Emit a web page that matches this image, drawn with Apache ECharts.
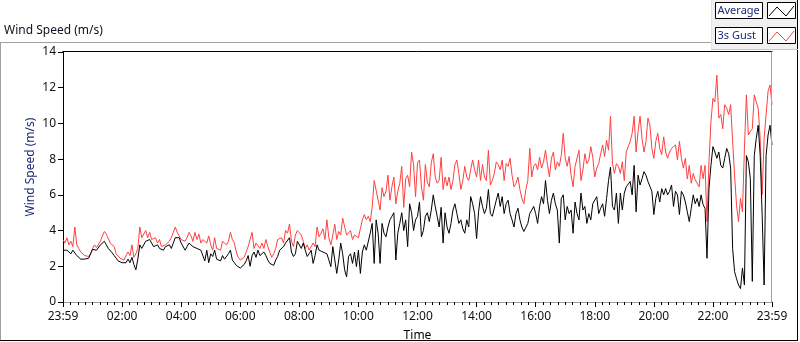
<!DOCTYPE html>
<html>
<head>
<meta charset="utf-8">
<script src="https://cdn.jsdelivr.net/npm/echarts@6/dist/echarts.min.js"></script>
<style>
html,body{margin:0;padding:0;background:#fff;}
#chart{width:800px;height:342px;}
</style>
</head>
<body>
<div id="chart"></div>
<script>
// Sampling step of the series (minutes from 23:59 start)
const sampleMinutes = 4;

// 3s Gust (m/s)
const gust = [
3.5,3.3,3.6,3.2,3.4,3.1,4.2,3.2,3.0,2.8,
2.7,2.6,2.5,2.55,2.7,3.0,3.2,3.05,3.1,3.4,
3.7,3.95,3.8,3.85,3.3,3.4,3.1,2.7,2.6,2.45,
2.4,2.35,2.6,2.8,2.6,3.2,2.5,2.7,3.0,4.2,
3.6,3.7,4.0,3.6,3.9,3.5,3.4,3.6,3.3,3.5,
3.1,3.0,3.2,3.3,3.4,3.6,3.9,4.2,3.9,3.7,
3.5,3.5,3.4,3.6,3.9,3.7,3.4,3.9,3.5,3.8,
3.3,3.5,3.4,3.3,3.7,3.2,2.9,3.6,3.0,3.1,
2.9,3.4,3.3,3.2,3.4,3.9,3.5,3.3,2.8,2.5,
2.35,2.45,2.5,2.6,3.1,3.5,3.9,3.0,3.3,3.4,
3.0,3.3,3.0,3.5,3.1,2.8,2.5,2.7,3.0,3.5,
3.4,3.6,3.3,4.0,3.85,4.37,3.4,3.1,3.75,4.0,
4.0,3.75,3.4,3.0,3.2,2.9,3.0,3.3,3.1,4.2,
3.65,3.85,4.1,3.5,4.6,3.6,3.2,3.75,4.35,3.5,
3.95,3.75,4.7,4.8,3.75,3.65,4.0,3.5,3.75,3.75,
3.6,4.1,4.6,4.9,4.6,4.8,4.5,5.3,6.8,6.7,
5.7,5.15,6.4,5.9,6.2,7.1,5.7,6.45,7.0,5.5,
6.2,6.65,7.6,5.3,6.9,7.1,6.45,8.4,7.7,5.9,
7.8,7.95,6.45,5.7,7.7,6.7,6.45,7.8,8.3,7.0,
6.65,6.8,8.1,6.3,7.0,6.5,7.0,6.3,6.8,7.7,
7.95,7.2,6.3,6.8,7.6,7.0,6.8,7.4,7.95,7.4,
7.0,7.95,6.8,7.7,7.0,6.8,8.5,6.55,6.8,7.2,
7.85,7.7,7.4,7.95,6.8,7.75,7.6,8.05,7.1,6.45,
6.65,7.0,6.3,5.8,5.5,6.3,6.8,8.6,7.0,7.6,
7.75,7.4,8.1,7.5,7.85,8.5,7.7,7.0,8.05,8.4,
7.4,7.85,7.6,8.2,9.45,8.05,7.6,8.15,7.1,6.45,
7.6,7.65,8.5,6.8,7.4,8.3,7.75,7.95,8.7,8.1,
7.0,7.5,7.75,8.3,8.8,8.15,9.05,8.5,10.4,7.75,
7.2,7.75,7.6,7.2,7.85,6.8,8.4,8.4,9.0,9.45,
10.4,8.4,9.55,10.4,9.15,8.4,9.0,10.3,9.9,8.6,
8.05,9.0,9.45,8.6,8.25,9.25,8.4,8.05,8.4,8.6,
8.7,8.8,7.95,9.0,8.05,7.5,8.05,6.9,7.65,6.65,
7.2,6.85,6.9,6.45,7.65,6.9,7.65,4.5,7.85,10.1,
11.4,11.2,12.7,10.3,10.5,9.7,11.05,10.85,10.5,11.05,
9.0,7.1,5.4,4.5,5.8,5.05,8.6,11.6,9.35,9.55,
9.7,11.6,11.2,10.85,9.15,6.0,9.15,10.5,11.8,12.15,
11.05
];

// Average (m/s)
const average = [
2.9,2.8,2.9,2.85,2.7,2.9,2.8,2.6,2.65,2.4,
2.3,2.4,2.3,2.45,2.7,2.95,3.0,2.9,2.85,3.2,
3.3,3.4,3.3,3.0,2.9,2.75,2.6,2.45,2.3,2.2,
2.2,2.15,2.2,2.4,2.2,2.5,2.1,1.8,2.4,3.2,
3.0,3.1,3.4,3.3,3.5,3.3,3.1,3.0,3.2,3.0,
2.9,2.9,3.1,3.0,3.2,3.0,3.3,3.6,3.5,3.6,
3.3,3.2,2.9,3.1,3.3,3.2,3.1,3.2,3.0,3.0,
2.9,2.8,2.3,2.9,2.2,2.7,2.55,2.9,2.4,2.5,
2.3,2.6,2.4,2.5,2.7,2.9,2.35,2.2,2.05,1.95,
1.9,2.0,2.1,2.3,2.6,2.0,2.6,2.8,2.5,2.9,
2.6,2.7,2.8,2.6,2.35,2.16,2.25,2.05,2.35,2.55,
2.9,2.8,3.1,3.3,3.2,3.6,2.8,2.55,2.7,3.4,
3.5,3.0,3.3,2.9,2.55,2.7,2.9,2.16,2.6,3.2,
2.9,3.0,2.8,2.7,2.7,2.35,1.98,3.1,3.2,1.6,
2.35,3.3,2.7,1.8,1.4,2.55,2.7,2.16,2.8,1.98,
2.9,1.6,2.8,3.2,2.9,2.8,3.85,4.4,2.16,4.6,
3.85,2.16,4.4,3.85,3.65,4.2,4.6,4.8,5.0,2.35,
3.85,4.4,5.0,4.0,4.6,3.1,5.5,5.0,4.0,4.6,
4.8,5.6,3.65,4.0,4.8,5.0,4.5,5.15,6.0,5.35,
4.8,4.2,5.3,3.3,5.0,4.2,3.85,4.4,5.15,5.5,
4.95,4.4,4.6,4.1,3.85,4.6,4.2,5.9,5.5,4.95,
3.55,5.05,5.9,5.35,4.95,5.25,6.3,4.95,4.8,4.9,
5.7,6.1,5.35,5.9,4.95,5.5,5.7,4.95,4.6,4.2,
4.95,5.25,4.6,4.2,3.95,3.85,4.4,4.95,5.05,5.35,
4.95,4.4,5.35,5.9,5.5,6.8,5.7,4.95,5.7,6.1,
5.5,5.15,3.3,5.8,6.0,4.6,5.35,4.95,5.15,3.85,
5.6,4.95,4.6,6.1,5.15,5.35,4.4,4.95,4.6,5.5,
5.5,5.9,4.95,5.25,5.5,4.8,5.8,6.8,7.55,5.35,
5.15,6.1,4.4,6.1,5.15,6.1,6.45,6.35,6.75,6.0,
7.65,5.05,7.1,6.55,6.9,7.3,7.1,6.75,6.65,6.2,
4.9,5.8,6.2,5.6,6.35,6.0,6.35,6.0,6.2,6.55,
5.35,6.2,6.0,4.9,6.2,6.0,5.6,5.05,4.5,5.25,
6.0,5.5,5.8,5.35,6.0,5.45,5.25,2.45,6.35,7.65,
8.7,8.4,8.05,8.4,7.65,7.5,8.05,8.6,8.3,7.5,
3.0,1.7,1.3,0.95,0.75,1.9,0.95,8.2,7.85,6.9,
1.15,8.2,9.15,9.9,8.2,4.9,0.95,8.2,9.35,9.9,
8.8
];

// X axis tick labels (every 120 minutes)
const xTickLabels = ["23:59","02:00","04:00","06:00","08:00","10:00","12:00","14:00","16:00","18:00","20:00","22:00","23:59"];
const xTickStep = 120;
const yMax = 14;
const yStep = 2;

const gustData = gust.map((v, i) => [i * sampleMinutes, v]);
const avgData = average.map((v, i) => [i * sampleMinutes, v]);

const FONT = '"Noto Sans", "Open Sans", sans-serif';
const NAVY = '#1b2a74';

const chart = echarts.init(document.getElementById('chart'), null, {renderer: 'canvas'});
chart.setOption({
  animation: false,
  backgroundColor: '#ffffff',
  textStyle: {fontFamily: FONT},
  grid: {left: 63, right: 28, top: 52, bottom: 40, containLabel: false, outerBoundsMode: 'none'},
  xAxis: {
    type: 'value',
    min: 0,
    max: (xTickLabels.length - 1) * xTickStep,
    interval: xTickStep,
    name: 'Time',
    nameLocation: 'middle',
    nameGap: 28,
    nameTextStyle: {color: '#000', fontSize: 12, fontFamily: FONT},
    axisLine: {show: true, lineStyle: {color: '#a0a0a0', width: 1}},
    axisTick: {show: true, length: 5, lineStyle: {color: '#000'}},
    minorTick: {show: true, splitNumber: 8, length: 3, lineStyle: {color: '#000'}},
    splitLine: {show: false},
    axisLabel: {
      color: '#111',
      fontSize: 12,
      fontFamily: FONT,
      margin: 9,
      showMinLabel: true,
      showMaxLabel: true,
      formatter: function (v) { return xTickLabels[Math.round(v / xTickStep)]; }
    }
  },
  yAxis: {
    type: 'value',
    min: 0,
    max: yMax,
    interval: yStep,
    axisLine: {show: true, lineStyle: {color: '#000', width: 1}},
    axisTick: {show: true, length: 5, lineStyle: {color: '#000'}},
    splitLine: {show: false},
    axisLabel: {color: '#111', fontSize: 12, fontFamily: FONT, margin: 7}
  },
  series: [
    {
      name: '3s Gust',
      type: 'line',
      data: gustData,
      showSymbol: false,
      symbol: 'none',
      lineStyle: {color: '#ff4040', width: 1},
      itemStyle: {color: '#ff4040'},
      z: 2
    },
    {
      name: 'Average',
      type: 'line',
      data: avgData,
      showSymbol: false,
      symbol: 'none',
      lineStyle: {color: '#000000', width: 1},
      itemStyle: {color: '#000000'},
      z: 3
    }
  ],
  graphic: [
    // outer frame
    {type: 'line', z: 50, shape: {x1: 0, y1: 42.5, x2: 712, y2: 42.5}, style: {stroke: '#a0a0a0', lineWidth: 1}},
    {type: 'line', z: 50, shape: {x1: 0.5, y1: 42, x2: 0.5, y2: 341}, style: {stroke: '#a0a0a0', lineWidth: 1}},
    {type: 'line', z: 50, shape: {x1: 0, y1: 340.5, x2: 798, y2: 340.5}, style: {stroke: '#000', lineWidth: 1}},
    {type: 'line', z: 50, shape: {x1: 797.5, y1: 0, x2: 797.5, y2: 341}, style: {stroke: '#000', lineWidth: 1}},
    // plot frame: top black, right gray
    {type: 'line', z: 50, shape: {x1: 62.5, y1: 51.5, x2: 772.5, y2: 51.5}, style: {stroke: '#000', lineWidth: 1}},
    {type: 'line', z: 50, shape: {x1: 771.5, y1: 51.5, x2: 771.5, y2: 302}, style: {stroke: '#a0a0a0', lineWidth: 1}},
    // title
    {type: 'text', z: 50, left: 4, top: 25, style: {text: 'Wind Speed (m/s)', fill: '#101020', font: '12px ' + FONT}},
    // y axis name
    {type: 'text', z: 50, x: 31, y: 167, rotation: Math.PI / 2,
     style: {text: 'Wind Speed (m/s)', fill: NAVY, font: '12px ' + FONT, align: 'center', verticalAlign: 'middle'}},
    // legend panel
    {type: 'rect', z: 60, shape: {x: 711, y: 0, width: 86, height: 49}, style: {fill: '#f0f0f0', stroke: null}},
    {type: 'line', z: 61, shape: {x1: 711.5, y1: 0, x2: 711.5, y2: 49}, style: {stroke: '#e3e3e3', lineWidth: 1}},
    {type: 'line', z: 61, shape: {x1: 711, y1: 49.5, x2: 798, y2: 49.5}, style: {stroke: '#c8c8c8', lineWidth: 1}},
    {type: 'rect', z: 62, shape: {x: 715.5, y: 2.5, width: 47, height: 16}, style: {fill: '#fff', stroke: '#000', lineWidth: 1}},
    {type: 'text', z: 63, x: 717.5, y: 10.5, style: {text: 'Average', fill: NAVY, font: '11px ' + FONT, verticalAlign: 'middle'}},
    {type: 'rect', z: 62, shape: {x: 767.5, y: 2.5, width: 28, height: 16}, style: {fill: '#fff', stroke: '#000', lineWidth: 1}},
    {type: 'polyline', z: 63, shape: {points: [[769, 16], [777, 7], [786, 16], [794, 6]]}, style: {stroke: '#000', lineWidth: 1, fill: null}},
    {type: 'rect', z: 62, shape: {x: 715.5, y: 27.5, width: 47, height: 16}, style: {fill: '#fff', stroke: '#000', lineWidth: 1}},
    {type: 'text', z: 63, x: 717.5, y: 35.5, style: {text: '3s Gust', fill: NAVY, font: '11px ' + FONT, verticalAlign: 'middle'}},
    {type: 'rect', z: 62, shape: {x: 767.5, y: 27.5, width: 28, height: 16}, style: {fill: '#fff', stroke: '#000', lineWidth: 1}},
    {type: 'polyline', z: 63, shape: {points: [[769, 41], [777, 32], [786, 41], [794, 31]]}, style: {stroke: '#ff4040', lineWidth: 1, fill: null}}
  ]
});
</script>
</body>
</html>
